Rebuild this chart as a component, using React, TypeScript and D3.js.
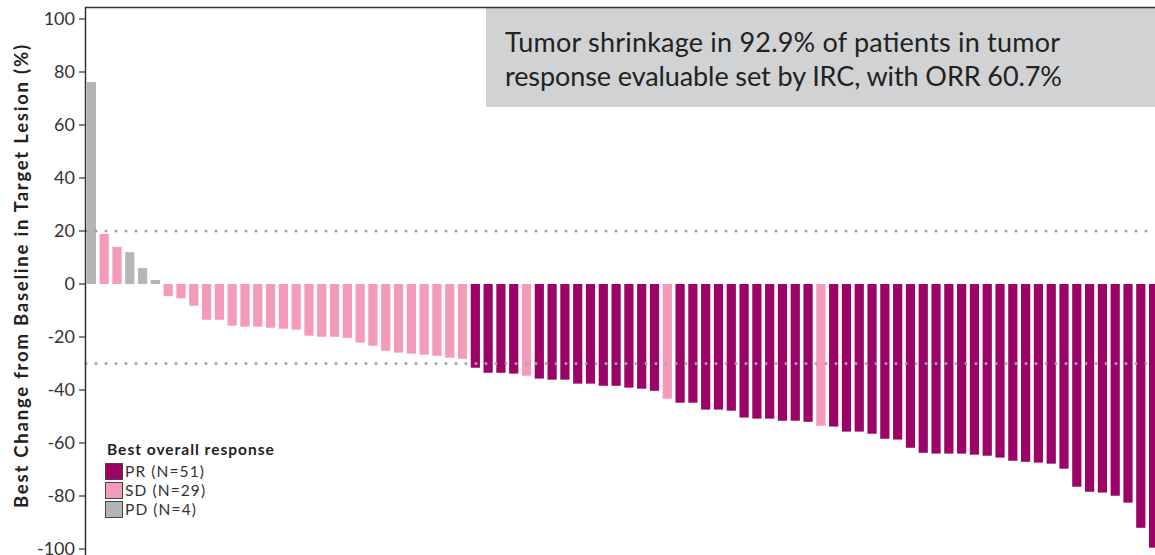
import React from "react";
import * as d3 from "d3";

const values: number[] = [
  76.2, 18.9, 14.0, 12.0, 6.0, 1.5, -4.6, -5.4, -8.2, -13.5, -13.5, -15.7, -16.1, -16.1, -16.5, -16.9,
  -17.2, -19.5, -19.9, -19.9, -20.3, -22.1, -23.3, -25.2, -25.9, -26.3, -26.7, -27.1, -27.8, -28.2,
  -31.6, -33.5, -33.5, -33.8, -34.6, -35.7, -36.1, -36.1, -37.6, -37.6, -38.4, -38.4, -39.1, -39.5,
  -40.3, -43.3, -44.8, -44.8, -47.4, -47.4, -47.8, -50.4, -50.8, -50.8, -51.6, -51.6, -52.0, -53.5,
  -53.8, -55.7, -55.7, -56.5, -58.4, -58.7, -61.8, -63.7, -64.0, -64.0, -64.0, -64.4, -64.8, -65.5,
  -66.7, -67.1, -67.4, -67.8, -69.7, -76.5, -78.4, -78.7, -79.9, -82.5, -92.0, -99.5,
];

const responses: string[] = [
  "PD", "SD", "SD", "PD", "PD", "PD", "SD", "SD", "SD", "SD", "SD", "SD", "SD", "SD", "SD", "SD",
  "SD", "SD", "SD", "SD", "SD", "SD", "SD", "SD", "SD", "SD", "SD", "SD", "SD", "SD",
  "PR", "PR", "PR", "PR", "SD", "PR", "PR", "PR", "PR", "PR", "PR", "PR", "PR", "PR",
  "PR", "SD", "PR", "PR", "PR", "PR", "PR", "PR", "PR", "PR", "PR", "PR", "PR", "SD",
  "PR", "PR", "PR", "PR", "PR", "PR", "PR", "PR", "PR", "PR", "PR", "PR", "PR", "PR",
  "PR", "PR", "PR", "PR", "PR", "PR", "PR", "PR", "PR", "PR", "PR", "PR",
];

const yTicks: number[] = [100, 80, 60, 40, 20, 0, -20, -40, -60, -80, -100];
const refLines: number[] = [20, -30];
const legendKeys: string[] = ["PR", "SD", "PD"];
const legendLabels: string[] = ["PR (N=51)", "SD (N=29)", "PD (N=4)"];
const annotationLines: string[] = [
  "Tumor shrinkage in 92.9% of patients in tumor",
  "response evaluable set by IRC, with ORR 60.7%",
];

const colors: Record<string, string> = { PR: "#9b0367", SD: "#f49bbb", PD: "#b4b5b9" };

const W = 1155;
const H = 555;
const FONT = "Lato, 'Noto Sans', sans-serif";

export default function App() {
  const x = d3
    .scaleBand<number>()
    .domain(d3.range(values.length))
    .range([85, 1160])
    .paddingInner(0.28)
    .paddingOuter(0.14);
  const y = d3.scaleLinear().domain([-100, 100]).range([549, 19]);

  return (
    <svg
      width={W}
      height={H}
      style={{ position: "absolute", left: 0, top: 0, background: "#fff" }}
    >
      {/* annotation box */}
      <rect x={486} y={8} width={W - 486} height={99} fill="#d1d2d4" />
      {annotationLines.map((t, i) => (
        <text
          key={i}
          x={505}
          y={52 + i * 34}
          fontFamily={FONT}
          fontSize={27}
          fill="#222"
          textLength={i === 0 ? 555 : 557}
          lengthAdjust="spacing"
        >
          {t}
        </text>
      ))}

      {/* bars */}
      {values.map((v, i) => (
        <rect
          key={i}
          x={x(i)}
          y={Math.min(y(v), y(0))}
          width={x.bandwidth()}
          height={Math.abs(y(v) - y(0))}
          fill={colors[responses[i]]}
        />
      ))}

      {/* reference dotted lines */}
      {refLines.map((r) => (
        <line
          key={r}
          x1={86}
          x2={W}
          y1={y(r)}
          y2={y(r)}
          stroke="#a3a3a3"
          strokeWidth={3}
          strokeLinecap="round"
          strokeDasharray="0 10"
        />
      ))}

      {/* frame */}
      <line x1={85} x2={W} y1={7.5} y2={7.5} stroke="#333" strokeWidth={1.5} />
      <line x1={85.5} x2={85.5} y1={7} y2={H} stroke="#333" strokeWidth={1.5} />

      {/* y ticks */}
      {yTicks.map((t) => (
        <g key={t} transform={`translate(0,${y(t)})`}>
          <line x1={79} x2={85} stroke="#333" strokeWidth={1.2} />
          <text
            x={75}
            dy="0.35em"
            textAnchor="end"
            fontFamily={FONT}
            fontSize={18}
            fill="#333"
          >
            {t}
          </text>
        </g>
      ))}

      {/* y title */}
      <text
        transform={`translate(27.5,${276.5}) rotate(-90)`}
        textAnchor="middle"
        fontFamily={FONT}
        fontWeight="bold"
        fontSize={18.5}
        fill="#222"
        textLength={463}
        lengthAdjust="spacing"
      >
        Best Change from Baseline in Target Lesion (%)
      </text>

      {/* legend */}
      <text
        x={107}
        y={455}
        fontFamily={FONT}
        fontWeight="bold"
        fontSize={15.5}
        fill="#222"
        letterSpacing={1}
      >
        Best overall response
      </text>
      {legendKeys.map((k, i) => (
        <g key={k} transform={`translate(105.5,${463.5 + i * 19})`}>
          <rect width={17} height={16} fill={colors[k]} stroke="#444" strokeWidth={1} />
          <text
            x={19.5}
            y={13.5}
            fontFamily={FONT}
            fontSize={15.5}
            fill="#333"
            letterSpacing={1.1}
          >
            {legendLabels[i]}
          </text>
        </g>
      ))}
    </svg>
  );
}
